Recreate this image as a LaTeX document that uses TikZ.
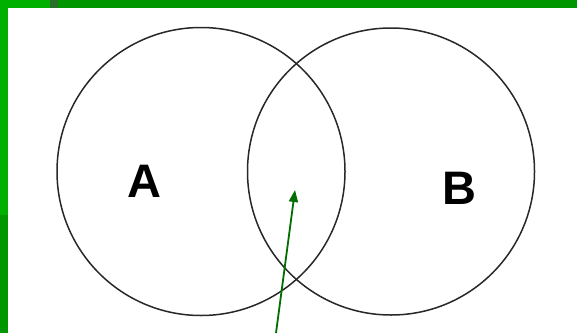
\documentclass[tikz,border=0pt]{standalone}
\usepackage{fontspec}
\setmainfont{Liberation Sans}
\usetikzlibrary{arrows.meta}
\definecolor{brightgreen}{RGB}{0,176,0}
\definecolor{darkgreen}{RGB}{0,150,0}
\definecolor{patchgreen}{RGB}{40,110,40}
\definecolor{arrowgreen}{RGB}{0,110,0}
\definecolor{ringgray}{RGB}{40,40,40}
\tikzset{
  ring/.style={draw=ringgray, line width=1.5pt},
  setlabel/.style={font=\fontsize{47}{47}\selectfont\bfseries, inner sep=0pt},
  pointer/.style={draw=arrowgreen, line width=1.8pt, -{Triangle[length=12pt,width=9pt]}}
}
\begin{document}
\begin{tikzpicture}[x=1pt,y=1pt]
\useasboundingbox (0,0) rectangle (577,333);
\fill[white] (0,0) rectangle (577,333);
% green frame
\fill[darkgreen] (0,325) rectangle (577,333);
\fill[brightgreen] (0,325) rectangle (50,333);
\fill[patchgreen] (50,325) rectangle (58,333);
\fill[brightgreen] (0,118) rectangle (8,325);
\fill[darkgreen] (0,0) rectangle (8,118);
% circles
\node[ring, circle, minimum size=288pt, inner sep=0pt] (A) at (201,161.5) {};
\node[ring, circle, minimum size=287pt, inner sep=0pt] (B) at (391,161.5) {};
\node[setlabel] (la) at (144.5,151.5) {A};
\node[setlabel] (lb) at (459,144.5) {B};
\coordinate (tail) at (276,0);
\coordinate (tip) at (295,143);
\draw[pointer] (tail) -- (tip);
\end{tikzpicture}
\end{document}
